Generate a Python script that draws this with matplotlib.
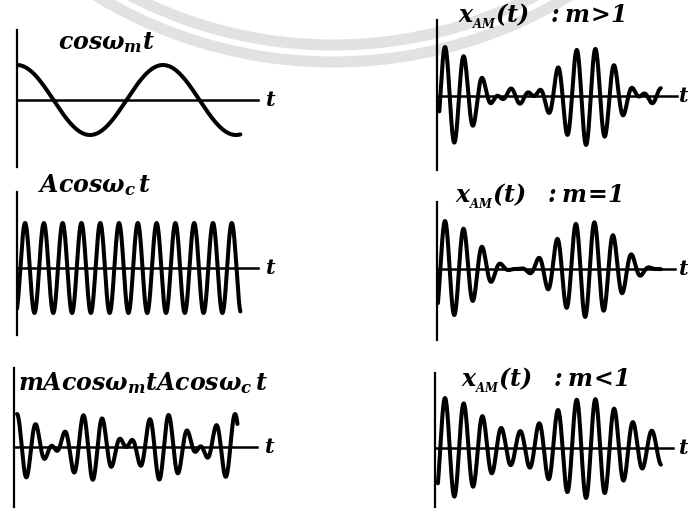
# -*- coding: utf-8 -*-
import numpy as np
import matplotlib
matplotlib.use('Agg')
import matplotlib.pyplot as plt
from matplotlib.patches import Circle

plt.rcParams['mathtext.fontset'] = 'custom'
plt.rcParams['mathtext.it'] = 'DejaVu Serif:italic:bold'
plt.rcParams['mathtext.rm'] = 'DejaVu Serif:italic:bold'
plt.rcParams['mathtext.bf'] = 'DejaVu Serif:italic:bold'

W, H = 688, 509

# data
titles = [r'$cos\omega_m t$', r'$Acos\omega_c\, t$', r'$mAcos\omega_m tAcos\omega_c\, t$',
          r'$x_{_{AM}}(t)\ \ :m\!>\!1$', r'$x_{_{AM}}(t)\ \ :m\!=\!1$', r'$x_{_{AM}}(t)\ \ :m\!<\!1$']
kinds = ['msg', 'carrier', 'dsb', 'am', 'am', 'am']
mod_index = [0, 0, 1.0, 1.4, 1.0, 0.5]
carrier_ratio = [0, 7.77, 7.7, 7.55, 7.6, 7.55]   # omega_c / omega_m
carrier_phase = [0, -2.7, 0, 0, 0, 0]             # rad
mod_cycles = [1.53, 1.53, 1.51, 1.52, 1.52, 1.52]  # length of drawn wave in message periods
start_cycles = [0, 0, 0, -0.04, -0.05, -0.05]

# layout in pixels: x0, x1, ytop, ybot, y of t-axis, amplitude, x at t=0, message period
boxes = [
    (17, 258, 30, 167, 100, 35, 17, 146),
    (17, 258, 192, 335, 268, 45, 17, 146),
    (14, 257, 368, 507, 447, 33, 17, 146),
    (437, 677, 20, 170, 96, 49, 445, 142),
    (437, 675, 202, 340, 269, 48, 445, 142),
    (435, 673, 373, 507, 448, 50, 445, 142),
]
title_pos = [(58, 43), (38, 185), (18, 383), (458, 16), (455, 196), (461, 380)]

fig = plt.figure(figsize=(W / 100, H / 100), dpi=100)

# faint watermark rings
bg = fig.add_axes([0, 0, 1, 1], zorder=-1)
bg.set_xlim(0, W)
bg.set_ylim(H, 0)
bg.axis('off')
for r in [440, 457]:
    bg.add_patch(Circle((333, 45 - 440), r, fill=False, lw=8, color='#e2e2e2'))

for i in range(6):
    x0, x1, yt, yb, yh, amp, xs, P = boxes[i]
    ax = fig.add_axes([x0 / W, 1 - yb / H, (x1 - x0) / W, (yb - yt) / H])
    ax.set_xlim((x0 - xs) / P * 2 * np.pi, (x1 - xs) / P * 2 * np.pi)
    ax.set_ylim(-(yb - yh) / amp, (yh - yt) / amp)
    ax.patch.set_alpha(0)

    t = np.linspace(start_cycles[i] * 2 * np.pi, mod_cycles[i] * 2 * np.pi, 3000)
    msg = np.cos(t)
    car = np.cos(carrier_ratio[i] * t + carrier_phase[i])
    if kinds[i] == 'msg':
        y = msg
    elif kinds[i] == 'carrier':
        y = car
    elif kinds[i] == 'dsb':
        y = mod_index[i] * msg * car
    else:
        m = mod_index[i]
        y = (1 + m * msg) * car / (1 + m)
    ax.plot(t, y, color='black', lw=2.9, solid_capstyle='round')

    for s in ['top', 'right']:
        ax.spines[s].set_visible(False)
    ax.spines['left'].set_position(('data', ax.get_xlim()[0]))
    ax.spines['bottom'].set_position(('data', 0))
    ax.spines['left'].set_linewidth(1.6)
    ax.spines['bottom'].set_linewidth(1.8)
    ax.set_xticks([])
    ax.set_yticks([])

    fig.text(min(x1 + 7, W - 10) / W, 1 - yh / H, r'$t$', fontsize=15, ha='left', va='center')
    tx, ty = title_pos[i]
    fig.text(tx / W, 1 - ty / H, titles[i], fontsize=17, ha='left', va='center')

plt.savefig('out.png', dpi=100)
